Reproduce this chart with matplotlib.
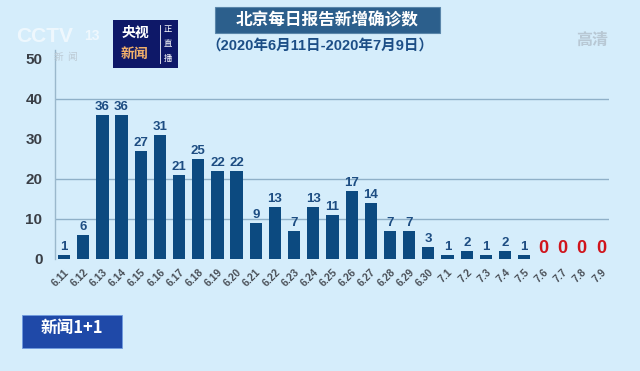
import numpy as np
import matplotlib.pyplot as plt
from matplotlib.patches import Rectangle

plt.rcParams['font.family'] = ['Liberation Sans', 'Noto Sans CJK SC', 'DejaVu Sans']

dates = ['6.11', '6.12', '6.13', '6.14', '6.15', '6.16', '6.17', '6.18', '6.19', '6.20',
         '6.21', '6.22', '6.23', '6.24', '6.25', '6.26', '6.27', '6.28', '6.29', '6.30',
         '7.1', '7.2', '7.3', '7.4', '7.5', '7.6', '7.7', '7.8', '7.9']
cases = [1, 6, 36, 36, 27, 31, 21, 25, 22, 22,
         9, 13, 7, 13, 11, 17, 14, 7, 7, 3,
         1, 2, 1, 2, 1, 0, 0, 0, 0]
y_ticks = [0, 10, 20, 30, 40, 50]
grid_at = [10, 20, 40]

title = '北京每日报告新增确诊数'
subtitle = '（2020年6月11日-2020年7月9日）'

bg = '#d5edfb'
bar_col = '#0c4a80'
lab_col = '#1d4d82'
W, H = 640, 371

fig = plt.figure(figsize=(6.4, 3.71), dpi=100)
fig.patch.set_facecolor(bg)

def fx(px):
    return px / W

def fy(py):
    return 1 - py / H

# main plot area
ax = fig.add_axes([fx(55), fy(259), fx(609) - fx(55), fy(50) - fy(259)])
ax.set_facecolor('none')
x = np.arange(len(dates))
ax.bar(x, cases, width=0.64, color=bar_col, zorder=3)
ax.set_xlim(-0.47, 28.42)
ax.set_ylim(0, 52.25)

for g in grid_at:
    ax.axhline(g, color='#8fb0c8', lw=1.0, zorder=1)

for xi, v in zip(x, cases):
    if v == 0:
        ax.text(xi, 0.6, '0', ha='center', va='bottom', color='#d0141c',
                fontsize=13, fontweight='bold')
    else:
        ax.text(xi, v + 0.5, str(v), ha='center', va='bottom', color=lab_col,
                fontsize=9.5, fontweight='bold')

ax.set_yticks(y_ticks)
ax.set_yticklabels([str(t) for t in y_ticks], fontsize=11, fontweight='bold', color='#3a3f46')
ax.tick_params(axis='y', length=0, pad=9)
ax.set_xticks(x)
ax.set_xticklabels(dates, rotation=45, ha='right', va='top', rotation_mode='anchor',
                   fontsize=7.5, fontweight='bold', color='#4a5058')
ax.tick_params(axis='x', length=0, pad=6)

for s in ['top', 'right', 'bottom']:
    ax.spines[s].set_visible(False)
ax.spines['left'].set_color('#9ab8cc')
ax.spines['left'].set_linewidth(1.0)

# title box
fig.patches.append(Rectangle((fx(215), fy(33)), fx(440) - fx(215), fy(7) - fy(33),
                             transform=fig.transFigure, facecolor='#2c5f8c',
                             edgecolor='#5a86aa', lw=0.8))
fig.text(fx(327), fy(20), title, ha='center', va='center', color='white',
         fontsize=12, fontweight='bold', family=['Noto Sans CJK SC'])
fig.text(fx(320), fy(46), subtitle, ha='center', va='center', color='#1c4e86',
         fontsize=10.5, fontweight='bold', family=['Liberation Sans', 'Noto Sans CJK SC'])

# CCTV watermark
fig.text(fx(16), fy(36), 'CCTV', ha='left', va='center', color='white', alpha=0.6,
         fontsize=15, fontweight='bold')
fig.text(fx(92), fy(36), '13', ha='center', va='center', color='white', alpha=0.6,
         fontsize=10, fontweight='bold')
fig.text(fx(66), fy(57), '新  闻', ha='center', va='center', color='#bccad4',
         fontsize=7, family=['Noto Sans CJK SC'])

# live news logo
fig.patches.append(Rectangle((fx(113), fy(68)), fx(178) - fx(113), fy(20) - fy(68),
                             transform=fig.transFigure, facecolor='#0e1868', edgecolor='none'))
fig.text(fx(135), fy(33), '央视', ha='center', va='center', color='white',
         fontsize=10, fontweight='bold', family=['Noto Sans CJK SC'])
fig.text(fx(135), fy(54), '新闻', ha='center', va='center', color='#f2b06a',
         fontsize=10, fontweight='bold', family=['Noto Sans CJK SC'])
fig.lines.append(plt.Line2D([fx(160), fx(160)], [fy(25), fy(63)], transform=fig.transFigure,
                            color='white', lw=0.6))
for i, ch in enumerate('正直播'):
    fig.text(fx(168), fy(30 + 14 * i), ch, ha='center', va='center', color='white',
             fontsize=6, family=['Noto Sans CJK SC'])

# HD mark
fig.text(fx(592), fy(40), '高清', ha='center', va='center', color='#b8c8d4',
         fontsize=11.5, fontweight='bold', family=['Noto Sans CJK SC'])

# bottom logo
fig.patches.append(Rectangle((fx(22), fy(348)), fx(122) - fx(22), fy(315) - fy(348),
                             transform=fig.transFigure, facecolor='#1f49a8',
                             edgecolor='#6f9be0', lw=0.6))
fig.text(fx(72), fy(328), '新闻1+1', ha='center', va='center', color='white',
         fontsize=12, fontweight='bold', family=['Noto Sans CJK SC'])

fig.savefig('out.png', dpi=100, facecolor=fig.get_facecolor())
